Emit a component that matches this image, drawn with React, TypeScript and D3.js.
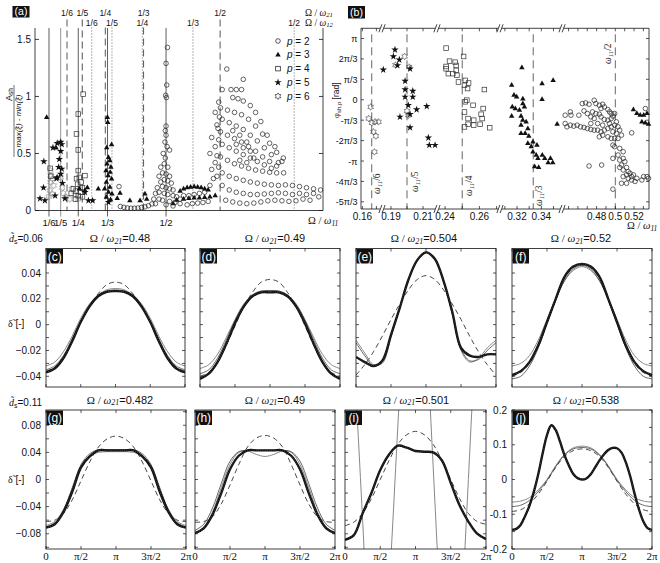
import React, { useEffect, useRef } from "react";
import * as d3 from "d3";

type P = [number, number];

const SANS = "'Liberation Sans', Arial, Helvetica, sans-serif";
const SERIF = "'Liberation Serif', 'Times New Roman', serif";

// ---------------- panel (a) ----------------
const harmonicFracs = [1 / 6, 1 / 5, 1 / 4, 1 / 3, 1 / 2];
const harmonicLabels = ["1/6", "1/5", "1/4", "1/3", "1/2"];
const ratio21 = 1.308; // omega21 / omega11
const ratio12 = 1.73; // omega12 / omega11
const aYTicks = [0, 0.5, 1, 1.5];
const aYTickLabels = ["0", "0.5", "1", "1.5"];

const aP2: P[] = [
  [0.366, 0.21], [0.37, 0.035], [0.38, 0.028], [0.39, 0.022], [0.4, 0.02], [0.41, 0.02], [0.42, 0.022], [0.43, 0.026], [0.44, 0.032], [0.45, 0.042], [0.46, 0.058],
  [0.504, 1.43], [0.5, 1.29], [0.502, 1.1], [0.499, 1.01], [0.501, 0.99], [0.5, 0.74], [0.498, 0.7], [0.5, 0.66], [0.497, 0.6], [0.503, 0.56], [0.51, 0.53], [0.498, 0.46], [0.495, 0.41], [0.505, 0.38], [0.485, 0.38], [0.492, 0.5],
  [0.48, 0.3], [0.49, 0.33], [0.5, 0.32], [0.51, 0.3], [0.485, 0.25], [0.495, 0.27], [0.505, 0.26], [0.515, 0.24], [0.475, 0.2], [0.49, 0.21], [0.5, 0.2], [0.51, 0.19], [0.52, 0.18],
  [0.47, 0.15], [0.48, 0.16], [0.495, 0.15], [0.505, 0.14], [0.52, 0.13], [0.53, 0.12], [0.465, 0.1], [0.48, 0.1], [0.49, 0.09], [0.51, 0.08], [0.525, 0.07], [0.54, 0.06], [0.47, 0.06], [0.5, 0.05], [0.52, 0.04], [0.54, 0.1], [0.55, 0.13],
  [0.56, 0.05], [0.575, 0.06], [0.59, 0.065], [0.605, 0.07], [0.62, 0.08], [0.565, 0.13], [0.58, 0.14], [0.595, 0.15], [0.61, 0.16], [0.625, 0.22], [0.635, 0.28], [0.63, 0.36], [0.64, 0.42], [0.625, 0.5], [0.64, 0.56], [0.63, 0.64], [0.645, 0.75], [0.64, 0.86], [0.65, 0.95],
  [0.645, 0.3], [0.65, 0.38], [0.645, 0.48], [0.65, 0.62], [0.648, 0.72], [0.652, 0.82],
  [0.673, 1.24], [0.72, 1.15], [0.66, 1.06], [0.685, 1.06], [0.7, 1.06], [0.715, 1.06], [0.69, 0.99], [0.705, 0.98], [0.72, 0.96], [0.74, 0.92], [0.755, 0.86], [0.77, 0.78], [0.788, 0.66], [0.81, 0.56], [0.834, 0.46],
  [0.655, 0.9], [0.675, 0.88], [0.695, 0.86], [0.715, 0.84], [0.735, 0.8], [0.755, 0.74], [0.775, 0.67], [0.795, 0.59], [0.815, 0.51], [0.83, 0.43],
  [0.66, 0.8], [0.68, 0.77], [0.7, 0.74], [0.72, 0.71], [0.74, 0.66], [0.76, 0.61], [0.78, 0.55], [0.8, 0.49], [0.82, 0.42],
  [0.655, 0.69], [0.675, 0.66], [0.695, 0.63], [0.715, 0.6], [0.735, 0.56], [0.755, 0.52], [0.775, 0.47], [0.795, 0.43], [0.815, 0.39],
  [0.66, 0.58], [0.68, 0.55], [0.7, 0.52], [0.72, 0.49], [0.74, 0.46], [0.76, 0.43], [0.78, 0.4], [0.8, 0.37],
  [0.655, 0.47], [0.675, 0.44], [0.695, 0.41], [0.715, 0.39], [0.735, 0.37], [0.755, 0.355], [0.775, 0.345], [0.795, 0.335], [0.815, 0.33], [0.835, 0.33],
  [0.66, 0.33], [0.68, 0.3], [0.7, 0.28], [0.72, 0.265], [0.74, 0.25], [0.76, 0.24], [0.78, 0.23], [0.8, 0.225], [0.82, 0.22], [0.84, 0.225], [0.86, 0.22], [0.88, 0.21], [0.9, 0.2], [0.92, 0.19],
  [0.66, 0.22], [0.68, 0.18], [0.7, 0.16], [0.72, 0.15], [0.74, 0.14], [0.76, 0.14], [0.78, 0.145], [0.8, 0.15], [0.82, 0.155], [0.84, 0.15], [0.86, 0.14], [0.88, 0.15], [0.9, 0.14], [0.92, 0.15], [0.935, 0.12], [0.94, 0.18],
  [0.67, 0.09], [0.69, 0.075], [0.71, 0.065], [0.73, 0.06], [0.75, 0.065], [0.77, 0.075], [0.79, 0.085], [0.81, 0.09], [0.83, 0.085], [0.85, 0.08], [0.87, 0.085], [0.89, 0.1], [0.91, 0.09],
  [0.69, 0.7], [0.71, 0.66], [0.73, 0.6], [0.7, 0.58], [0.72, 0.55], [0.74, 0.52], [0.71, 0.44], [0.73, 0.42], [0.75, 0.46],
];
const aP3: P[] = [
  [0.16, 0.816], [0.187, 0.549],
  [0.333, 0.816], [0.334, 0.773], [0.345, 0.577], [0.331, 0.55], [0.336, 0.466], [0.34, 0.437], [0.332, 0.408], [0.343, 0.379], [0.329, 0.35], [0.341, 0.335], [0.335, 0.306], [0.345, 0.277], [0.33, 0.248], [0.34, 0.204], [0.325, 0.19], [0.336, 0.16], [0.346, 0.146], [0.33, 0.117], [0.342, 0.096],
  [0.307, 0.19], [0.276, 0.2], [0.253, 0.19], [0.269, 0.175], [0.361, 0.105], [0.369, 0.151], [0.397, 0.087], [0.426, 0.087], [0.44, 0.146], [0.445, 0.1],
  [0.54, 0.17], [0.55, 0.19], [0.56, 0.2], [0.57, 0.205], [0.58, 0.21], [0.59, 0.205], [0.6, 0.2], [0.61, 0.19], [0.62, 0.18],
  [0.55, 0.1], [0.565, 0.105], [0.58, 0.11], [0.595, 0.11], [0.61, 0.115], [0.625, 0.12], [0.64, 0.13], [0.52, 0.06], [0.53, 0.09],
];
const aP4: P[] = [
  [0.264, 1.02], [0.25, 0.846], [0.245, 0.671], [0.25, 0.531], [0.25, 0.35], [0.253, 0.29], [0.245, 0.28], [0.258, 0.25], [0.248, 0.23], [0.262, 0.2],
  [0.244, 0.17], [0.256, 0.16], [0.25, 0.13], [0.262, 0.12], [0.242, 0.1], [0.269, 0.306], [0.17, 0.37], [0.172, 0.3], [0.23, 0.15], [0.236, 0.19],
];
const aP5: P[] = [
  [0.152, 0.43], [0.141, 0.105], [0.155, 0.087], [0.178, 0.55], [0.2, 0.6], [0.203, 0.58], [0.2, 0.52], [0.19, 0.59], [0.194, 0.38], [0.203, 0.365], [0.2, 0.32],
  [0.19, 0.29], [0.151, 0.2], [0.184, 0.13], [0.212, 0.105], [0.269, 0.16], [0.279, 0.087], [0.291, 0.087], [0.336, 0.073], [0.196, 0.45], [0.188, 0.28], [0.205, 0.24],
];
const aP6: P[] = [
  [0.171, 0.35], [0.171, 0.306], [0.176, 0.277], [0.171, 0.248], [0.18, 0.219], [0.169, 0.175], [0.176, 0.146], [0.166, 0.122],
  [0.2, 0.29], [0.204, 0.2], [0.207, 0.15], [0.232, 0.19], [0.24, 0.14], [0.25, 0.1], [0.215, 0.12], [0.226, 0.1],
];
const legendNames = ["2", "3", "4", "5", "6"];
const legendKinds = ["circle", "tri", "sq", "star", "hex"];

// ---------------- panel (b) ----------------
// phase values in units of pi/3
const bYTicks = [3, 2, 1, 0, -1, -2, -3, -4, -5];
const bYTickLabels = ["π", "2π/3", "π/3", "0", "-π/3", "-2π/3", "-π", "-4π/3", "-5π/3"];
const bXTickLabels = [0.16, 0.19, 0.21, 0.24, 0.26, 0.32, 0.34, 0.48, 0.5, 0.52];
const bXMinor = [0.16, 0.17, 0.19, 0.2, 0.21, 0.24, 0.25, 0.26, 0.27, 0.31, 0.32, 0.33, 0.34, 0.35, 0.45, 0.46, 0.47, 0.48, 0.49, 0.5, 0.51, 0.52, 0.53];
const bSegDomain = [0.159, 0.174, 0.1844, 0.2187, 0.2353, 0.272, 0.306, 0.357, 0.443, 0.536];
const bDashFracs = [1 / 6, 1 / 5, 1 / 4, 1 / 3, 1 / 2];
const bDashNames = ["6", "5", "4", "3", "2"];

const bP6: P[] = [
  [0.1659, -0.35], [0.1645, -0.92], [0.1668, -1.13], [0.1691, -1.08], [0.1715, -1.08], [0.1679, -1.57], [0.1696, -1.78], [0.1686, -2.55],
  [0.1928, 1.7], [0.1985, 2.12], [0.2014, 1.6], [0.2008, -0.76], [0.2, -0.55],
];
const bP5: P[] = [
  [0.1852, 1.47], [0.1925, 2.45], [0.1915, 2.12], [0.1952, 1.96], [0.194, 1.68], [0.2019, 1.52], [0.1988, 0.92], [0.1988, 0.5], [0.2036, 0.43], [0.1988, 0.14],
  [0.2036, 0.14], [0.2008, -0.27], [0.2019, -0.71], [0.1956, -0.84], [0.206, -0.48], [0.2123, -0.32], [0.2019, -1.36], [0.2133, -1.86], [0.2139, -2.22], [0.2175, -2.22],
];
const bP4: P[] = [
  [0.2406, 2.53], [0.2426, 1.89], [0.2459, 1.84], [0.2406, 1.63], [0.2406, 1.52], [0.2465, 1.68], [0.2419, 1.28], [0.2465, 1.44], [0.2445, 1.28], [0.2469, 1.2],
  [0.2508, 2.12], [0.2478, 0.87], [0.2518, 0.95], [0.2537, 0.82], [0.2513, 0.71], [0.2531, 0.55], [0.2527, -0.02], [0.2518, -0.1], [0.2563, -0.27], [0.2629, 0.5],
  [0.2622, -0.43], [0.261, -0.71], [0.2616, -0.92], [0.2567, -1.0], [0.2567, -1.24], [0.2534, -0.92], [0.2534, -1.2], [0.2513, -1.33], [0.2604, -1.2], [0.266, -1.37], [0.2513, -0.6],
];
const bP3: P[] = [
  [0.3156, 0.71], [0.3175, 0.22], [0.3197, 0.14], [0.3248, 0.04], [0.324, 1.57], [0.3156, -0.8], [0.3161, -0.35], [0.3186, -0.43], [0.322, -0.51], [0.3248, -0.19],
  [0.3261, -0.35], [0.3233, -0.8], [0.3247, -1.0], [0.3233, -1.24], [0.3275, -1.08], [0.3289, -1.41], [0.3233, -1.65], [0.3297, -1.78], [0.3289, -2.14], [0.3317, -2.3],
  [0.3331, -2.55], [0.3358, -2.71], [0.3372, -2.87], [0.3345, -3.28], [0.3408, -2.71], [0.3428, -2.87], [0.3456, -3.08], [0.3406, 0.79], [0.3406, 0.02], [0.3497, 0.95],
  [0.353, -1.2], [0.3267, -1.65], [0.3331, -2.06], [0.3364, -2.22], [0.3475, -2.87], [0.3494, -3.08], [0.3378, -3.31],
  [0.5193, -0.48], [0.523, -0.67], [0.5266, -0.76], [0.5303, -0.76], [0.5339, -0.67], [0.5284, -1.08], [0.532, -1.13], [0.5355, -1.2],
];
const bP2: P[] = [
  [0.4464, -0.756], [0.4519, -0.593], [0.4526, -0.756], [0.461, -0.756], [0.4665, -0.545], [0.4647, -0.187], [0.4683, -0.154], [0.4719, -0.22], [0.4774, -0.024], [0.4792, -0.187],
  [0.4829, -0.268], [0.4847, -0.43], [0.4865, -0.22], [0.4883, -0.35], [0.492, -0.48], [0.4938, -0.593], [0.4956, -0.675], [0.4974, -0.805], [0.4701, -0.675], [0.4756, -0.593],
  [0.4792, -0.675], [0.4829, -0.707], [0.4738, -0.837], [0.4774, -0.919], [0.4847, -0.837], [0.4883, -0.967], [0.492, -1.0], [0.4956, -0.919], [0.4993, -0.675], [0.5011, -1.081],
  [0.5029, -1.325], [0.4464, -1.163], [0.4483, -1.325], [0.4519, -1.244], [0.4556, -1.293], [0.4592, -1.244], [0.4628, -1.325], [0.4665, -1.358], [0.4701, -1.407], [0.4738, -1.455],
  [0.4774, -1.488], [0.4811, -1.488], [0.4847, -1.569], [0.4883, -1.488], [0.492, -1.407], [0.4956, -1.325], [0.4993, -1.244], [0.4974, -1.569], [0.5011, -1.65], [0.5047, -1.488],
  [0.4738, -1.163], [0.4811, -1.163], [0.4865, -1.244], [0.4938, -1.163], [0.4829, -1.813], [0.4865, -1.732], [0.492, -1.813], [0.4956, -1.894], [0.4993, -1.894], [0.5029, -1.894],
  [0.5066, -1.732], [0.4974, -2.22], [0.4993, -2.3], [0.5047, -2.382], [0.5084, -2.545], [0.5029, -2.707], [0.4974, -2.87], [0.5047, -2.951], [0.5084, -2.87], [0.5102, -3.033],
  [0.5066, -3.195], [0.5047, -3.317], [0.5084, -3.439], [0.512, -3.317], [0.5138, -3.52], [0.512, -3.68], [0.5157, -3.6], [0.5175, -3.764], [0.5084, -3.764], [0.5138, -3.846],
  [0.5193, -3.68], [0.523, -3.846], [0.5284, -3.93], [0.5302, -3.764], [0.5339, -3.764], [0.5355, -3.846], [0.5175, -3.93], [0.512, -4.09], [0.5066, -4.09], [0.5211, -4.0],
  [0.4719, -3.244], [0.4854, -3.195], [0.4974, -4.38], [0.5321, -0.43], [0.5175, -1.62],
];

// ---------------- panels (c)-(j) ----------------
const thetaTicks = [0, Math.PI / 2, Math.PI, (3 * Math.PI) / 2, 2 * Math.PI];
const thetaTickLabels = ["0", "π/2", "π", "3π/2", "2π"];
const row1YTicks = [0.04, 0.02, 0, -0.02, -0.04];
const row1YLabels = ["0.04", "0.02", "0", "−0.02", "−0.04"];
const row2YTicks = [0.08, 0.04, 0, -0.04, -0.08];
const row2YLabels = ["0.08", "0.04", "0", "−0.04", "−0.08"];
const jYTicks = [0.2, 0.1, 0, -0.1, -0.2];
const jYLabels = ["0.2", "0.1", "0", "-0.1", "-0.2"];
const freqTitles = ["0.48", "0.49", "0.504", "0.52", "0.482", "0.49", "0.501", "0.538"];
const dsValues = ["0.06", "0.11"];

const cThick = [-0.037, -0.034, -0.026, -0.013, 0.002, 0.014, 0.022, 0.0255, 0.026, 0.0255, 0.022, 0.014, 0.002, -0.013, -0.026, -0.034, -0.037];
const cThinA = [-0.032, -0.029, -0.021, -0.009, 0.005, 0.016, 0.023, 0.027, 0.028, 0.027, 0.023, 0.016, 0.005, -0.009, -0.021, -0.029, -0.032];
const cThinB = [-0.035, -0.032, -0.024, -0.011, 0.003, 0.015, 0.023, 0.026, 0.027, 0.026, 0.023, 0.015, 0.003, -0.011, -0.024, -0.032, -0.035];
const cDash = [-0.036, -0.033, -0.025, -0.012, 0.003, 0.015, 0.024, 0.031, 0.033, 0.031, 0.024, 0.015, 0.003, -0.012, -0.025, -0.033, -0.036];

const dThick = [-0.042, -0.038, -0.029, -0.015, 0.001, 0.014, 0.022, 0.025, 0.025, 0.025, 0.022, 0.014, 0.001, -0.015, -0.029, -0.038, -0.042];
const dThinA = [-0.034, -0.031, -0.023, -0.01, 0.004, 0.016, 0.023, 0.026, 0.026, 0.026, 0.023, 0.016, 0.004, -0.01, -0.023, -0.031, -0.034];
const dThinB = [-0.038, -0.035, -0.026, -0.012, 0.003, 0.015, 0.023, 0.026, 0.0265, 0.026, 0.023, 0.015, 0.003, -0.012, -0.026, -0.035, -0.038];
const dDash = [-0.04, -0.037, -0.029, -0.016, -0.001, 0.014, 0.025, 0.033, 0.035, 0.033, 0.025, 0.014, -0.001, -0.016, -0.029, -0.037, -0.04];

const eThick = [-0.025, -0.029, -0.032, -0.028, -0.008, 0.013, 0.035, 0.05, 0.056, 0.051, 0.034, 0.01, -0.018, -0.024, -0.025, -0.023, -0.023];
const eThinA = [-0.012, -0.022, -0.031, -0.03, -0.01, 0.013, 0.035, 0.05, 0.056, 0.051, 0.034, 0.008, -0.02, -0.029, -0.026, -0.018, -0.012];
const eThinB = [-0.014, -0.024, -0.032, -0.029, -0.009, 0.013, 0.035, 0.05, 0.056, 0.051, 0.034, 0.009, -0.019, -0.028, -0.027, -0.02, -0.014];
const eDash = [-0.039, -0.031, -0.021, -0.009, 0.004, 0.016, 0.027, 0.035, 0.038, 0.035, 0.027, 0.016, 0.004, -0.009, -0.021, -0.031, -0.039];

const fThick = [-0.039, -0.036, -0.029, -0.016, 0.002, 0.02, 0.037, 0.045, 0.047, 0.045, 0.037, 0.02, 0.002, -0.016, -0.029, -0.036, -0.039];
const fThinA = [-0.032, -0.03, -0.024, -0.012, 0.004, 0.02, 0.034, 0.042, 0.045, 0.042, 0.034, 0.02, 0.004, -0.012, -0.024, -0.03, -0.032];
const fThinB = [-0.042, -0.04, -0.032, -0.018, 0.001, 0.019, 0.034, 0.043, 0.046, 0.043, 0.034, 0.019, 0.001, -0.018, -0.032, -0.04, -0.042];
const fDash = [-0.04, -0.037, -0.03, -0.017, 0.001, 0.019, 0.036, 0.044, 0.047, 0.044, 0.036, 0.019, 0.001, -0.017, -0.03, -0.037, -0.04];

const gThick = [-0.071, -0.066, -0.048, -0.018, 0.018, 0.034, 0.043, 0.043, 0.043, 0.043, 0.043, 0.034, 0.018, -0.018, -0.048, -0.066, -0.071];
const gThinA = [-0.068, -0.062, -0.044, -0.014, 0.02, 0.035, 0.04, 0.041, 0.041, 0.041, 0.04, 0.035, 0.02, -0.014, -0.044, -0.062, -0.068];
const gThinB = [-0.07, -0.064, -0.045, -0.012, 0.022, 0.038, 0.044, 0.044, 0.044, 0.044, 0.044, 0.038, 0.022, -0.012, -0.045, -0.064, -0.07];
const gDash = [-0.062, -0.06, -0.05, -0.03, -0.002, 0.026, 0.048, 0.06, 0.064, 0.06, 0.048, 0.026, -0.002, -0.03, -0.05, -0.06, -0.062];

const hThick = [-0.079, -0.072, -0.052, -0.02, 0.015, 0.035, 0.043, 0.043, 0.043, 0.043, 0.043, 0.035, 0.015, -0.02, -0.052, -0.072, -0.079];
const hThinA = [-0.079, -0.07, -0.048, -0.012, 0.022, 0.04, 0.042, 0.037, 0.034, 0.037, 0.042, 0.04, 0.022, -0.012, -0.048, -0.07, -0.079];
const hThinB = [-0.075, -0.066, -0.042, -0.006, 0.027, 0.041, 0.043, 0.043, 0.043, 0.043, 0.043, 0.041, 0.027, -0.006, -0.042, -0.066, -0.075];
const hDash = [-0.063, -0.062, -0.055, -0.036, -0.008, 0.022, 0.048, 0.061, 0.065, 0.061, 0.048, 0.022, -0.008, -0.036, -0.055, -0.062, -0.063];

const iThick = [-0.089, -0.082, -0.05, -0.02, 0.014, 0.037, 0.05, 0.047, 0.042, 0.041, 0.04, 0.028, -0.005, -0.038, -0.062, -0.08, -0.088];
const iThin = [
  0.35, 0.35, 0.19, 0.065, -0.06, -0.19, -0.3, -0.35, -0.35, -0.33, -0.17, -0.045, 0.08, 0.2, 0.32, 0.35, 0.35,
  0.34, 0.27, 0.15, 0.02, -0.11, -0.23, -0.33, -0.35, -0.34, -0.25, -0.13, 0.0, 0.13, 0.25, 0.33, 0.35,
];
const iDash = [-0.068, -0.063, -0.05, -0.028, 0.0, 0.028, 0.052, 0.066, 0.071, 0.066, 0.052, 0.028, 0.0, -0.028, -0.05, -0.062, -0.066];

const jThick = [
  -0.145, -0.142, -0.13, -0.105, -0.075, -0.035, 0.015, 0.075, 0.128, 0.156, 0.142, 0.108, 0.07, 0.04, 0.016, 0.004, 0.0,
  0.003, 0.015, 0.035, 0.055, 0.072, 0.085, 0.091, 0.09, 0.078, 0.05, 0.01, -0.04, -0.085, -0.12, -0.14, -0.145,
];
const jThinA = [-0.065, -0.062, -0.052, -0.03, 0.0, 0.04, 0.072, 0.091, 0.096, 0.091, 0.072, 0.04, 0.0, -0.03, -0.052, -0.062, -0.065];
const jThinB = [-0.078, -0.074, -0.06, -0.035, -0.003, 0.037, 0.07, 0.088, 0.092, 0.088, 0.07, 0.037, -0.003, -0.035, -0.06, -0.074, -0.078];
const jDash = [-0.092, -0.087, -0.07, -0.042, -0.005, 0.035, 0.066, 0.083, 0.088, 0.083, 0.066, 0.035, -0.005, -0.042, -0.07, -0.087, -0.092];

type Sel = d3.Selection<any, any, any, any>;

function drawMarker(g: Sel, kind: string, x: number, y: number, color: string) {
  if (kind === "circle") {
    g.append("circle").attr("cx", x).attr("cy", y).attr("r", 2.3).attr("fill", "none").attr("stroke", color).attr("stroke-width", 0.7);
  } else if (kind === "tri") {
    g.append("path").attr("d", d3.symbol().type(d3.symbolTriangle).size(13)() as string).attr("transform", `translate(${x},${y})`).attr("fill", color);
  } else if (kind === "sq") {
    g.append("rect").attr("x", x - 2.3).attr("y", y - 2.3).attr("width", 4.6).attr("height", 4.6).attr("fill", "none").attr("stroke", color).attr("stroke-width", 0.7);
  } else if (kind === "star") {
    g.append("path").attr("d", d3.symbol().type(d3.symbolStar).size(17)() as string).attr("transform", `translate(${x},${y})`).attr("fill", color);
  } else if (kind === "hex") {
    const R = 3.3;
    const r = R / Math.sqrt(3);
    const pts = d3.range(12).map((i) => {
      const a = -Math.PI / 2 + (i * Math.PI) / 6;
      const rr = i % 2 === 0 ? R : r;
      return [x + rr * Math.cos(a), y + rr * Math.sin(a)];
    });
    g.append("path").attr("d", "M" + pts.map((p) => p.join(",")).join("L") + "Z").attr("fill", "none").attr("stroke", color).attr("stroke-width", 0.6);
  }
}

function omegaText(g: Sel, x: number, y: number, sub: string, suffix: string, anchor: string, size: number, subShift = 0.18) {
  const t = g.append("text").attr("x", x).attr("y", y).attr("text-anchor", anchor).attr("font-size", size).attr("fill", "#111");
  t.append("tspan").attr("font-family", SERIF).text("Ω / ");
  t.append("tspan").attr("font-family", SERIF).attr("font-style", "italic").text("ω");
  t.append("tspan").attr("font-family", SERIF).attr("font-style", "italic").attr("font-size", size * 0.72).attr("dy", size * subShift).text(sub);
  if (suffix) t.append("tspan").attr("font-family", SANS).attr("dy", -size * subShift).text(suffix);
}

function labelBox(g: Sel, x: number, y: number, w: number, h: number, s: string, fs: number) {
  g.append("rect").attr("x", x).attr("y", y).attr("width", w).attr("height", h).attr("fill", "#111");
  g.append("text").attr("x", x + w / 2).attr("y", y + h - 3).attr("text-anchor", "middle").attr("font-family", SANS).attr("font-size", fs).attr("fill", "#fff").text(s);
}

function drawA(svg: Sel) {
  const g = svg.append("g");
  const L = 35, R = 323, T = 28, B = 210.5;
  const x = d3.scaleLinear().domain([0.1268, 0.947]).range([L, R]);
  const y = d3.scaleLinear().domain([0, 1.6]).range([B, T]);

  // harmonic lines
  harmonicFracs.forEach((f, i) => {
    const xs = x(f);
    g.append("line").attr("x1", xs).attr("x2", xs).attr("y1", T).attr("y2", B + 6).attr("stroke", i === 1 ? "#777" : "#333").attr("stroke-width", 0.8);
    g.append("text").attr("x", xs).attr("y", 226).attr("text-anchor", "middle").attr("font-family", SANS).attr("font-size", 9.5).attr("fill", "#111").text(harmonicLabels[i]);
  });
  harmonicFracs.forEach((f, i) => {
    const x21 = x(f * ratio21);
    const near = harmonicFracs.some((h) => Math.abs(x(h * ratio12) - x21) < 8);
    g.append("line").attr("x1", x21).attr("x2", x21).attr("y1", near ? 27.5 : 19.5).attr("y2", B).attr("stroke", i === 1 ? "#777" : "#444").attr("stroke-width", i === 1 ? 1.3 : 0.9).attr("stroke-dasharray", "7,4");
    g.append("text").attr("x", x21).attr("y", 15.5).attr("text-anchor", "middle").attr("font-family", SANS).attr("font-size", 8.5).attr("fill", "#111").text(harmonicLabels[i]);
    const x12 = x(f * ratio12);
    g.append("line").attr("x1", x12).attr("x2", x12).attr("y1", 27.5).attr("y2", B).attr("stroke", "#444").attr("stroke-width", 0.8).attr("stroke-dasharray", "1,2");
    g.append("text").attr("x", x12).attr("y", 25.5).attr("text-anchor", "middle").attr("font-family", SANS).attr("font-size", 8.5).attr("fill", "#111").text(harmonicLabels[i]);
  });
  omegaText(g, 305, 15.5, "21", "", "start", 9.5, 0.12);
  omegaText(g, 305, 25.5, "12", "", "start", 9.5, 0.12);
  omegaText(g, 308, 224, "11", "", "start", 10.5);

  // axes
  g.append("line").attr("x1", L).attr("x2", L).attr("y1", T).attr("y2", B).attr("stroke", "#111").attr("stroke-width", 0.8);
  g.append("line").attr("x1", R).attr("x2", R).attr("y1", T).attr("y2", B).attr("stroke", "#111").attr("stroke-width", 0.8);
  g.append("line").attr("x1", L).attr("x2", R).attr("y1", B).attr("y2", B).attr("stroke", "#111").attr("stroke-width", 0.8);
  aYTicks.forEach((v, i) => {
    const yy = y(v);
    g.append("line").attr("x1", L).attr("x2", L + 4).attr("y1", yy).attr("y2", yy).attr("stroke", "#111").attr("stroke-width", 0.8);
    g.append("line").attr("x1", R - 4).attr("x2", R).attr("y1", yy).attr("y2", yy).attr("stroke", "#111").attr("stroke-width", 0.8);
    g.append("text").attr("x", 31).attr("y", yy + 3.5).attr("text-anchor", "end").attr("font-family", SANS).attr("font-size", 10).attr("fill", "#111").text(aYTickLabels[i]);
  });

  // y label (fraction)
  const yl = g.append("g").attr("transform", "translate(13.5,121) rotate(-90)");
  const num = yl.append("text").attr("x", 33).attr("y", -2).attr("text-anchor", "end").attr("font-family", SANS).attr("font-size", 9).attr("fill", "#111");
  num.append("tspan").text("A");
  num.append("tspan").attr("font-size", 6.5).attr("dy", 1.5).text("sh");
  yl.append("line").attr("x1", -36).attr("x2", 36).attr("y1", 0.5).attr("y2", 0.5).attr("stroke", "#111").attr("stroke-width", 0.6);
  yl.append("text").attr("x", 0).attr("y", 7.5).attr("text-anchor", "middle").attr("font-family", SANS).attr("font-style", "italic").attr("font-size", 8).attr("fill", "#111").text("max(ξ\u0303) - min(ξ\u0303)");

  // markers
  const mg = g.append("g");
  aP6.forEach(([a, b]) => drawMarker(mg, "hex", x(a), y(b), "#888"));
  aP4.forEach(([a, b]) => drawMarker(mg, "sq", x(a), y(b), "#333"));
  aP5.forEach(([a, b]) => drawMarker(mg, "star", x(a), y(b), "#111"));
  aP3.forEach(([a, b]) => drawMarker(mg, "tri", x(a), y(b), "#111"));
  aP2.forEach(([a, b]) => drawMarker(mg, "circle", x(a), y(b), "#222"));

  // legend
  legendNames.forEach((n, i) => {
    const ly = 41 + i * 13.8;
    drawMarker(g, legendKinds[i], 278, ly, "#111");
    const t = g.append("text").attr("x", 287).attr("y", ly + 3.5).attr("font-family", SANS).attr("font-size", 10).attr("fill", "#111");
    t.append("tspan").attr("font-style", "italic").text("p");
    t.append("tspan").text(" = " + n);
  });

  labelBox(g, 12.5, 6, 17, 11.5, "(a)", 10.5);
}

function drawB(svg: Sel) {
  const g = svg.append("g");
  const L = 361, R = 649, T = 28.3, B = 209;
  const x = d3.scaleLinear().domain(bSegDomain).range([L, 382, 382, 437, 437, 500, 500, 562, 562, R]);
  const y = d3.scaleLinear().domain([-5.35, 3.5]).range([B, T]);
  const breaks = [382, 437, 500, 562];

  // dashed harmonic lines
  bDashFracs.forEach((f) => {
    const xs = x(f);
    g.append("line").attr("x1", xs).attr("x2", xs).attr("y1", T + 6).attr("y2", B).attr("stroke", "#555").attr("stroke-width", 0.9).attr("stroke-dasharray", "8,5");
  });
  const labPos: [number, number][] = [[380, 194], [418, 192], [472, 196], [542, 206], [611, 64]];
  bDashNames.forEach((n, i) => {
    const t = g.append("text").attr("transform", `translate(${labPos[i][0]},${labPos[i][1]}) rotate(-90)`).attr("font-family", SERIF).attr("font-size", 9.5).attr("fill", "#222");
    t.append("tspan").attr("font-style", "italic").text("ω");
    t.append("tspan").attr("font-style", "italic").attr("font-size", 7).attr("dy", 1.5).text("11");
    t.append("tspan").attr("dy", -1.5).text("/" + n);
  });

  // frame
  g.append("line").attr("x1", L).attr("x2", L).attr("y1", T).attr("y2", B).attr("stroke", "#111").attr("stroke-width", 0.8);
  g.append("line").attr("x1", R).attr("x2", R).attr("y1", T).attr("y2", B).attr("stroke", "#111").attr("stroke-width", 0.8);
  [T, B].forEach((yy) => {
    g.append("line").attr("x1", L).attr("x2", R).attr("y1", yy).attr("y2", yy).attr("stroke", "#111").attr("stroke-width", 0.8);
  });
  breaks.forEach((bx) => {
    [T, B].forEach((yy) => {
      g.append("rect").attr("x", bx - 2).attr("y", yy - 1).attr("width", 4).attr("height", 2).attr("fill", "#fff");
      [-1.6, 1.6].forEach((o) => {
        g.append("line").attr("x1", bx + o - 1.5).attr("x2", bx + o + 1.5).attr("y1", yy + 4).attr("y2", yy - 4).attr("stroke", "#111").attr("stroke-width", 0.8);
      });
    });
  });
  bXMinor.forEach((v) => {
    const xs = x(v);
    g.append("line").attr("x1", xs).attr("x2", xs).attr("y1", T).attr("y2", T + 3).attr("stroke", "#111").attr("stroke-width", 0.7);
    g.append("line").attr("x1", xs).attr("x2", xs).attr("y1", B - 3).attr("y2", B).attr("stroke", "#111").attr("stroke-width", 0.7);
  });
  bXTickLabels.forEach((v) => {
    g.append("text").attr("x", x(v)).attr("y", 219.5).attr("text-anchor", "middle").attr("font-family", SANS).attr("font-size", 10).attr("fill", "#111").text(String(v));
  });
  bYTicks.forEach((v, i) => {
    const yy = y(v);
    g.append("line").attr("x1", L).attr("x2", L + 3).attr("y1", yy).attr("y2", yy).attr("stroke", "#111").attr("stroke-width", 0.7);
    g.append("line").attr("x1", R - 3).attr("x2", R).attr("y1", yy).attr("y2", yy).attr("stroke", "#111").attr("stroke-width", 0.7);
    g.append("text").attr("x", 357.5).attr("y", yy + 3.5).attr("text-anchor", "end").attr("font-family", SANS).attr("font-size", 9).attr("fill", "#111").text(bYTickLabels[i]);
  });
  omegaText(g, 627, 229, "11", "", "start", 10.5);

  const yl = g.append("text").attr("transform", "translate(339,118) rotate(-90)").attr("font-family", SANS).attr("font-size", 8.5).attr("fill", "#111");
  yl.append("tspan").attr("font-family", SERIF).text("φ");
  yl.append("tspan").attr("font-size", 6).attr("dy", 1.5).text("sh,p");
  yl.append("tspan").attr("dy", -1.5).text(" [rad]");

  const mg = g.append("g");
  bP6.forEach(([a, b]) => drawMarker(mg, "hex", x(a), y(b), "#444"));
  bP4.forEach(([a, b]) => drawMarker(mg, "sq", x(a), y(b), "#333"));
  bP5.forEach(([a, b]) => drawMarker(mg, "star", x(a), y(b), "#111"));
  bP3.forEach(([a, b]) => drawMarker(mg, "tri", x(a), y(b), "#111"));
  bP2.forEach(([a, b]) => drawMarker(mg, "circle", x(a), y(b), "#222"));

  labelBox(g, 348, 6, 17, 12.5, "(b)", 10.5);
}

interface CurvePanel {
  id: string;
  left: number;
  right: number;
  top: number;
  bottom: number;
  yDomain: [number, number];
  minor: number[];
  yTicks: number[] | null;
  yLabels: string[] | null;
  xLabels: boolean;
  titleX: number;
  title: string;
  thick: number[];
  thinA: number[];
  thinB: number[] | null;
  dash: number[];
}

function drawCurvePanel(svg: Sel, p: CurvePanel) {
  const g = svg.append("g");
  const x = d3.scaleLinear().domain([0, 2 * Math.PI]).range([p.left, p.right]);
  const y = d3.scaleLinear().domain(p.yDomain).range([p.bottom, p.top]);
  const clipId = "clip-" + p.id;
  g.append("clipPath").attr("id", clipId).append("rect").attr("x", p.left).attr("y", p.top).attr("width", p.right - p.left).attr("height", p.bottom - p.top);
  const cg = g.append("g").attr("clip-path", `url(#${clipId})`);
  const mk = (vals: number[]) =>
    d3.line<number>()
      .x((_, i) => x((i * 2 * Math.PI) / (vals.length - 1)))
      .y((d) => y(d))
      .curve(d3.curveCatmullRom.alpha(0.5))(vals) as string;
  cg.append("path").attr("d", mk(p.dash)).attr("fill", "none").attr("stroke", "#333").attr("stroke-width", 0.9).attr("stroke-dasharray", "5,3.5");
  cg.append("path").attr("d", mk(p.thinA)).attr("fill", "none").attr("stroke", "#888").attr("stroke-width", 1);
  if (p.thinB) cg.append("path").attr("d", mk(p.thinB)).attr("fill", "none").attr("stroke", "#444").attr("stroke-width", 0.8);
  cg.append("path").attr("d", mk(p.thick)).attr("fill", "none").attr("stroke", "#111").attr("stroke-width", 2.4);
  cg.append("path").attr("d", mk(p.thick)).attr("fill", "none").attr("stroke", "#666").attr("stroke-width", 0.8).attr("stroke-dasharray", "0.6,1.6");

  // frame
  g.append("rect").attr("x", p.left).attr("y", p.top).attr("width", p.right - p.left).attr("height", p.bottom - p.top).attr("fill", "none").attr("stroke", "#111").attr("stroke-width", 0.8);
  thetaTicks.forEach((t, i) => {
    const xs = x(t);
    g.append("line").attr("x1", xs).attr("x2", xs).attr("y1", p.top).attr("y2", p.top + 3).attr("stroke", "#111").attr("stroke-width", 0.7);
    g.append("line").attr("x1", xs).attr("x2", xs).attr("y1", p.bottom - 3).attr("y2", p.bottom).attr("stroke", "#111").attr("stroke-width", 0.7);
    if (p.xLabels) {
      g.append("text").attr("x", xs).attr("y", 560).attr("text-anchor", "middle").attr("font-family", SERIF).attr("font-size", 11).attr("fill", "#111").text(thetaTickLabels[i]);
    }
  });
  p.minor.forEach((v) => {
    const yy = y(v);
    g.append("line").attr("x1", p.left).attr("x2", p.left + 3).attr("y1", yy).attr("y2", yy).attr("stroke", "#111").attr("stroke-width", 0.7);
    g.append("line").attr("x1", p.right - 3).attr("x2", p.right).attr("y1", yy).attr("y2", yy).attr("stroke", "#111").attr("stroke-width", 0.7);
  });
  if (p.yTicks && p.yLabels) {
    p.yTicks.forEach((v, i) => {
      g.append("text").attr("x", p.left - 5).attr("y", y(v) + 3.5).attr("text-anchor", "end").attr("font-family", SANS).attr("font-size", 10).attr("fill", "#111").text(p.yLabels![i]);
    });
  }
  omegaText(g, p.titleX, p.top - 6.5, "21", "=" + p.title, "middle", 11);
  labelBox(g, p.left + 0.5, p.top + 0.5, 16.5, 14.5, "(" + p.id + ")", 12);
}

function drawLower(svg: Sel) {
  const r1Top = 248.5, r1Bot = 387, r2Top = 410, r2Bot = 549;
  const r1Dom: [number, number] = [-0.0483, 0.059];
  const r2Dom: [number, number] = [-0.1025, 0.1025];
  const minor1 = d3.range(-4, 6).map((k) => k / 100);
  const minor2 = d3.range(-5, 6).map((k) => k / 50);
  const minorJ = d3.range(-4, 5).map((k) => k / 20);
  const panels: CurvePanel[] = [
    { id: "c", left: 46, right: 185, top: r1Top, bottom: r1Bot, yDomain: r1Dom, minor: minor1, yTicks: row1YTicks, yLabels: row1YLabels, xLabels: false, titleX: 120, title: freqTitles[0], thick: cThick, thinA: cThinA, thinB: cThinB, dash: cDash },
    { id: "d", left: 200, right: 340, top: r1Top, bottom: r1Bot, yDomain: r1Dom, minor: minor1, yTicks: null, yLabels: null, xLabels: false, titleX: 275, title: freqTitles[1], thick: dThick, thinA: dThinA, thinB: dThinB, dash: dDash },
    { id: "e", left: 356, right: 496, top: r1Top, bottom: r1Bot, yDomain: r1Dom, minor: minor1, yTicks: null, yLabels: null, xLabels: false, titleX: 424, title: freqTitles[2], thick: eThick, thinA: eThinA, thinB: eThinB, dash: eDash },
    { id: "f", left: 512, right: 652, top: r1Top, bottom: r1Bot, yDomain: r1Dom, minor: minor1, yTicks: null, yLabels: null, xLabels: false, titleX: 581, title: freqTitles[3], thick: fThick, thinA: fThinA, thinB: fThinB, dash: fDash },
    { id: "g", left: 46, right: 186, top: r2Top, bottom: r2Bot, yDomain: r2Dom, minor: minor2, yTicks: row2YTicks, yLabels: row2YLabels, xLabels: true, titleX: 120, title: freqTitles[4], thick: gThick, thinA: gThinA, thinB: gThinB, dash: gDash },
    { id: "h", left: 195, right: 335, top: r2Top, bottom: r2Bot, yDomain: r2Dom, minor: minor2, yTicks: null, yLabels: null, xLabels: true, titleX: 275, title: freqTitles[5], thick: hThick, thinA: hThinA, thinB: hThinB, dash: hDash },
    { id: "i", left: 345, right: 486, top: r2Top, bottom: r2Bot, yDomain: r2Dom, minor: minor2, yTicks: null, yLabels: null, xLabels: true, titleX: 416, title: freqTitles[6], thick: iThick, thinA: iThin, thinB: null, dash: iDash },
    { id: "j", left: 512, right: 652, top: r2Top, bottom: r2Bot, yDomain: [-0.2, 0.2], minor: minorJ, yTicks: jYTicks, yLabels: jYLabels, xLabels: true, titleX: 586, title: freqTitles[7], thick: jThick, thinA: jThinA, thinB: jThinB, dash: jDash },
  ];
  panels.forEach((p) => drawCurvePanel(svg, p));

  // d_s labels and y-axis labels
  [242, 406].forEach((yy, i) => {
    const t = svg.append("text").attr("x", 9).attr("y", yy).attr("font-family", SANS).attr("font-size", 10).attr("fill", "#111");
    t.append("tspan").attr("font-family", SERIF).attr("font-style", "italic").text("d\u0303");
    t.append("tspan").attr("font-size", 7).attr("dy", 2).text("s");
    t.append("tspan").attr("dy", -2).text("=" + dsValues[i]);
  });
  [327, 483].forEach((yy) => {
    const t = svg.append("text").attr("x", 8).attr("y", yy).attr("font-family", SANS).attr("font-size", 10).attr("fill", "#111");
    t.append("tspan").attr("font-family", SERIF).text("δ\u0303");
    t.append("tspan").text(" [-]");
  });
}

export default function App() {
  const ref = useRef<SVGSVGElement>(null);
  useEffect(() => {
    if (!ref.current) return;
    const svg = d3.select(ref.current);
    svg.selectAll("*").remove();
    svg.append("rect").attr("width", 660).attr("height", 563).attr("fill", "#fff");
    drawA(svg);
    drawB(svg);
    drawLower(svg);
  }, []);
  return (
    <svg
      ref={ref}
      width={660}
      height={563}
      viewBox="0 0 660 563"
      style={{ position: "absolute", left: 0, top: 0, display: "block" }}
    />
  );
}
